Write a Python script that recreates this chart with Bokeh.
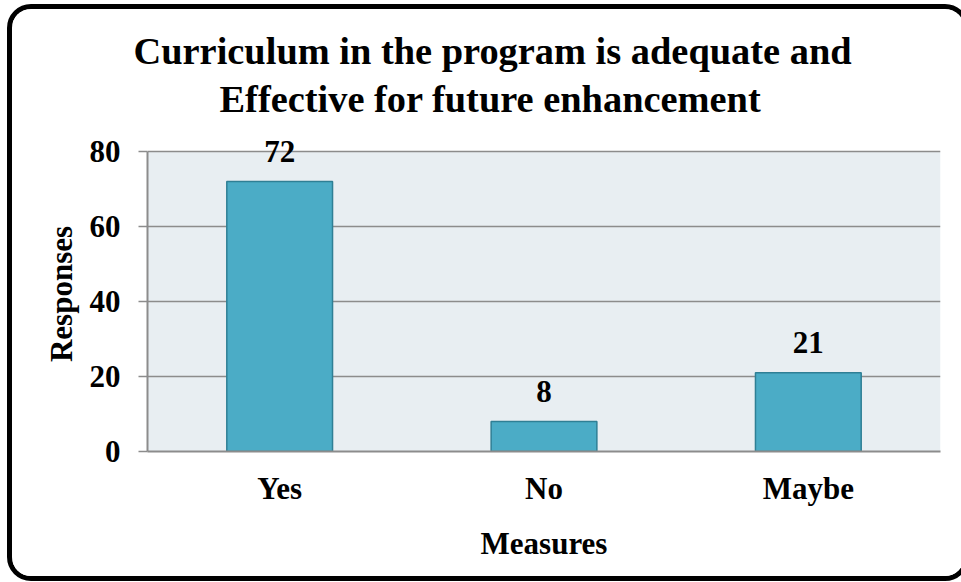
from bokeh.plotting import figure
from bokeh.models import Range1d, FactorRange, Title, FixedTicker, ColumnDataSource, BoxAnnotation
from bokeh.core.properties import value
from bokeh.embed import file_html
from bokeh.resources import INLINE

categories = ["Yes", "No", "Maybe"]
responses = [72, 8, 21]
y_ticks = [0, 20, 40, 60, 80]
y_max = 80
title_lines = ["Curriculum in the program is adequate and", "Effective for future enhancement"]
x_title = "Measures"
y_title = "Responses"

FONT = "Liberation Serif"
GRID = "#8c8c8c"

src = ColumnDataSource(dict(cat=categories, val=responses, lab=[str(v) for v in responses]))

# a little headroom above the 80 line so the "72" label is not clipped
p = figure(width=962, height=577, x_range=FactorRange(*categories, range_padding=0),
           y_range=Range1d(0, y_max + 4), output_backend="svg", toolbar_location=None,
           min_border_left=135, min_border_right=34, min_border_top=127, min_border_bottom=135,
           title=None)
p.styles = {"border": "5px solid black", "border-radius": "24px", "margin-left": "7px",
            "margin-top": "4px", "overflow": "hidden", "max-width": "none", "min-width": "962px"}
p.background_fill_color = "white"
p.border_fill_color = "white"
p.outline_line_color = None

p.add_layout(BoxAnnotation(bottom=0, top=y_max, fill_color="#e8eef2", fill_alpha=1,
                           line_color=None, level="image"))

p.vbar(x="cat", top="val", width=0.4, source=src, fill_color="#4bacc6", line_color="#2f7f95", line_width=1.5)
p.text(x="cat", y="val", text="lab", source=src, y_offset=-30, text_align="center", text_baseline="alphabetic",
       text_font=value(FONT), text_font_size="31px", text_font_style="bold", text_color="black")

p.xgrid.grid_line_color = None
p.ygrid.grid_line_color = GRID
p.ygrid.grid_line_width = 1.5

p.yaxis.ticker = FixedTicker(ticks=y_ticks)
p.yaxis.bounds = (0, y_max)
p.yaxis.axis_line_color = GRID
p.yaxis.axis_line_width = 2
p.yaxis.major_tick_line_color = GRID
p.yaxis.major_tick_line_width = 1.5
p.yaxis.major_tick_out = 9
p.yaxis.major_tick_in = 0
p.yaxis.minor_tick_line_color = None
p.yaxis.major_label_standoff = 18
p.yaxis.axis_label = y_title
p.yaxis.axis_label_standoff = 8

p.xaxis.axis_line_color = GRID
p.xaxis.axis_line_width = 2
p.xaxis.major_tick_line_color = None
p.xaxis.major_tick_out = 0
p.xaxis.major_tick_in = 0
p.xaxis.major_label_standoff = 19
p.xaxis.axis_label = x_title
p.xaxis.axis_label_standoff = 17

for ax in (p.xaxis[0], p.yaxis[0]):
    ax.major_label_text_font = FONT
    ax.major_label_text_font_size = "31px"
    ax.major_label_text_font_style = "bold"
    ax.major_label_text_color = "black"
    ax.axis_label_text_font = FONT
    ax.axis_label_text_font_size = "31px"
    ax.axis_label_text_font_style = "bold"
    ax.axis_label_text_color = "black"

# second line nearest the plot, first line above it
offsets = [-14, 72]
standoffs = [4, 4]
paddings = [0, (0, 0, 0, 15)]
for line, off, so, pad in reversed(list(zip(title_lines, offsets, standoffs, paddings))):
    p.add_layout(Title(text=line, align="left", offset=off, text_font=FONT, text_font_size="38.4px",
                       text_font_style="bold", text_color="black", standoff=so, padding=pad), "above")

open("out.html", "w").write(file_html(p, INLINE))
